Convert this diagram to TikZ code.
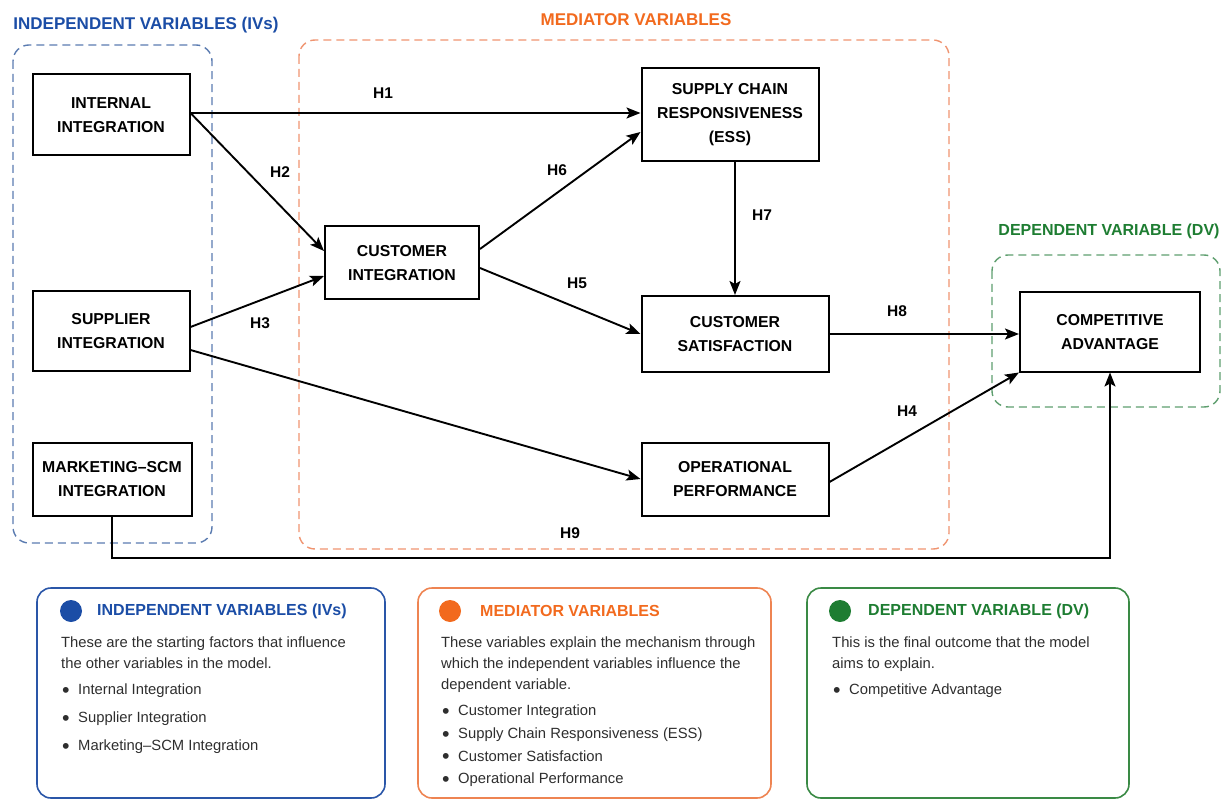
\documentclass[tikz,border=0pt]{standalone}
\usepackage{fontspec}
\setmainfont{Liberation Sans}
\usepackage{xcolor}
\usepackage{graphicx}
\usetikzlibrary{arrows.meta,positioning,calc}

\definecolor{ivblue}{HTML}{1B4DA6}
\definecolor{ivdash}{HTML}{5A7BB0}
\definecolor{ivline}{HTML}{2A56A8}
\definecolor{medorange}{HTML}{F26A1E}
\definecolor{meddash}{HTML}{EF9470}
\definecolor{medline}{HTML}{EE8452}
\definecolor{dvgreen}{HTML}{1E7D32}
\definecolor{dvdash}{HTML}{5E9E6E}
\definecolor{dvline}{HTML}{3A8A45}
\definecolor{bodytext}{HTML}{2E2E2E}

\newcommand{\legbullet}{\makebox[16pt][l]{\raisebox{-2.3pt}{\scalebox{1.45}{\textbullet}}}}

\begin{document}
\begin{tikzpicture}[x=1pt,y=-1pt]
        \tikzstyle{var}=[draw=black, line width=2pt, align=center, inner sep=0pt, font=\bfseries\fontsize{15.8}{24}\selectfont]
        \tikzstyle{hyp}=[-{Stealth[length=14pt,width=11pt,inset=3pt]}, line width=1.9pt]
        \tikzstyle{hlab}=[font=\bfseries\fontsize{15.5}{18}\selectfont]
        \tikzstyle{group}=[dash pattern=on 8pt off 5pt, line width=1.4pt, rounded corners=16pt]
        \tikzstyle{grouptitle}=[font=\bfseries\fontsize{17}{20}\selectfont]
        \tikzstyle{legend}=[line width=1.6pt, rounded corners=14pt]
        \tikzstyle{dot}=[circle, minimum size=22pt, inner sep=0pt]
        \tikzstyle{legtitle}=[anchor=west, inner sep=0pt, font=\bfseries\fontsize{16}{20}\selectfont]
        \tikzstyle{legtext}=[anchor=north west, align=left, inner sep=0pt, text=bodytext, font=\fontsize{14.8}{21}\selectfont]
        \tikzstyle{legitem}=[anchor=west, inner sep=0pt, text=bodytext, font=\fontsize{14.8}{18}\selectfont]

        \useasboundingbox (0,0) rectangle (1222,799);

        % dashed groups
        \draw[group, ivdash] (13,45) rectangle (212,543);
        \draw[group, meddash] (299,40) rectangle (949,549);
        \draw[group, dvdash] (992,255) rectangle (1220,407);

        \node (ivtitle) at (146,25)[grouptitle, ivblue]{INDEPENDENT VARIABLES (IVs)};
        \node (medtitle) at (636,20)[grouptitle, medorange]{MEDIATOR VARIABLES};
        \node (dvtitle) at (1109,231)[grouptitle, dvgreen, font=\bfseries\fontsize{16}{20}\selectfont]{DEPENDENT VARIABLE (DV)};

        % variables
        \node (ii) at (111,115)[var, minimum width=157pt, minimum height=81pt]{INTERNAL\\INTEGRATION};
        \node (si) at (111,331)[var, minimum width=157pt, minimum height=79pt]{SUPPLIER\\INTEGRATION};
        \node (msi) at (112,479)[var, minimum width=159pt, minimum height=73pt]{MARKETING–SCM\\INTEGRATION};
        \node (ci) at (402,263)[var, minimum width=154pt, minimum height=73pt]{CUSTOMER\\INTEGRATION};
        \node (scr) at (730,115)[var, minimum width=177pt, minimum height=93pt]{SUPPLY CHAIN\\RESPONSIVENESS\\(ESS)};
        \node (cs) at (735,334)[var, minimum width=187pt, minimum height=76pt]{CUSTOMER\\SATISFACTION};
        \node (op) at (735,479)[var, minimum width=187pt, minimum height=73pt]{OPERATIONAL\\PERFORMANCE};
        \node (ca) at (1110,332)[var, minimum width=180pt, minimum height=79pt]{COMPETITIVE\\ADVANTAGE};

        % hypotheses
        \draw[hyp] ([yshift=2pt]ii.east) -- ([yshift=2pt]ii.east -| scr.west);
        \draw[hyp] ([yshift=2pt]ii.east) -- ([yshift=12pt]ci.west);
        \draw[hyp] ([yshift=4pt]si.east) -- ([yshift=-13pt]ci.west);
        \draw[hyp] ([yshift=14pt]ci.east) -- ([yshift=-17pt]scr.west);
        \draw[hyp] ([yshift=-5pt]ci.east) -- (cs.west);
        \draw[hyp] (scr.south -| cs.north) -- (cs.north);
        \draw[hyp] (cs.east) -- (cs.east -| ca.west);
        \draw[hyp] ([yshift=-19pt]si.east) -- (op.west);
        \draw[hyp] ([yshift=-3pt]op.east) -- (ca.south west);
        \coordinate (h9) at (600,558);
        \draw[hyp] (msi.south) |- (h9) -| (ca.south);

        \node (h1) at (383,93)[hlab]{H1};
        \node (h2) at (280,172)[hlab]{H2};
        \node (h3) at (260,323)[hlab]{H3};
        \node (h6) at (557,170)[hlab]{H6};
        \node (h5) at (577,283)[hlab]{H5};
        \node (h7) at (762,215)[hlab]{H7};
        \node (h8) at (897,311)[hlab]{H8};
        \node (h4) at (907,411)[hlab]{H4};
        \node (h9lab) at (570,533)[hlab]{H9};

        % legend: independent
        \draw[legend, ivline] (37,588) rectangle (385,798);
        \node (ivdot) at (71,611)[dot, fill=ivblue]{};
        \node (ivlt) at (97,611)[legtitle, ivblue]{INDEPENDENT VARIABLES (IVs)};
        \node (ivtext) at (61,637)[legtext]{These are the starting factors that influence\\the other variables in the model.};
        \node (iva) at (62,691)[legitem]{\legbullet Internal Integration};
        \node (ivb) at (62,719)[legitem]{\legbullet Supplier Integration};
        \node (ivc) at (62,747)[legitem]{\legbullet Marketing–SCM Integration};

        % legend: mediators
        \draw[legend, medline] (418,588) rectangle (771,798);
        \node (meddot) at (450,611)[dot, fill=medorange]{};
        \node (medlt) at (480,611)[legtitle, medorange]{MEDIATOR VARIABLES};
        \node (medtext) at (441,637)[legtext]{These variables explain the mechanism through\\which the independent variables influence the\\dependent variable.};
        \node (meda) at (442,712)[legitem]{\legbullet Customer Integration};
        \node (medb) at (442,735)[legitem]{\legbullet Supply Chain Responsiveness (ESS)};
        \node (medc) at (442,757)[legitem]{\legbullet Customer Satisfaction};
        \node (medd) at (442,780)[legitem]{\legbullet Operational Performance};

        % legend: dependent
        \draw[legend, dvline] (807,588) rectangle (1129,798);
        \node (dvdot) at (840,611)[dot, fill=dvgreen]{};
        \node (dvlt) at (868,611)[legtitle, dvgreen]{DEPENDENT VARIABLE (DV)};
        \node (dvtext) at (832,637)[legtext]{This is the final outcome that the model\\aims to explain.};
        \node (dva) at (833,691)[legitem]{\legbullet Competitive Advantage};
      \end{tikzpicture}
\end{document}
